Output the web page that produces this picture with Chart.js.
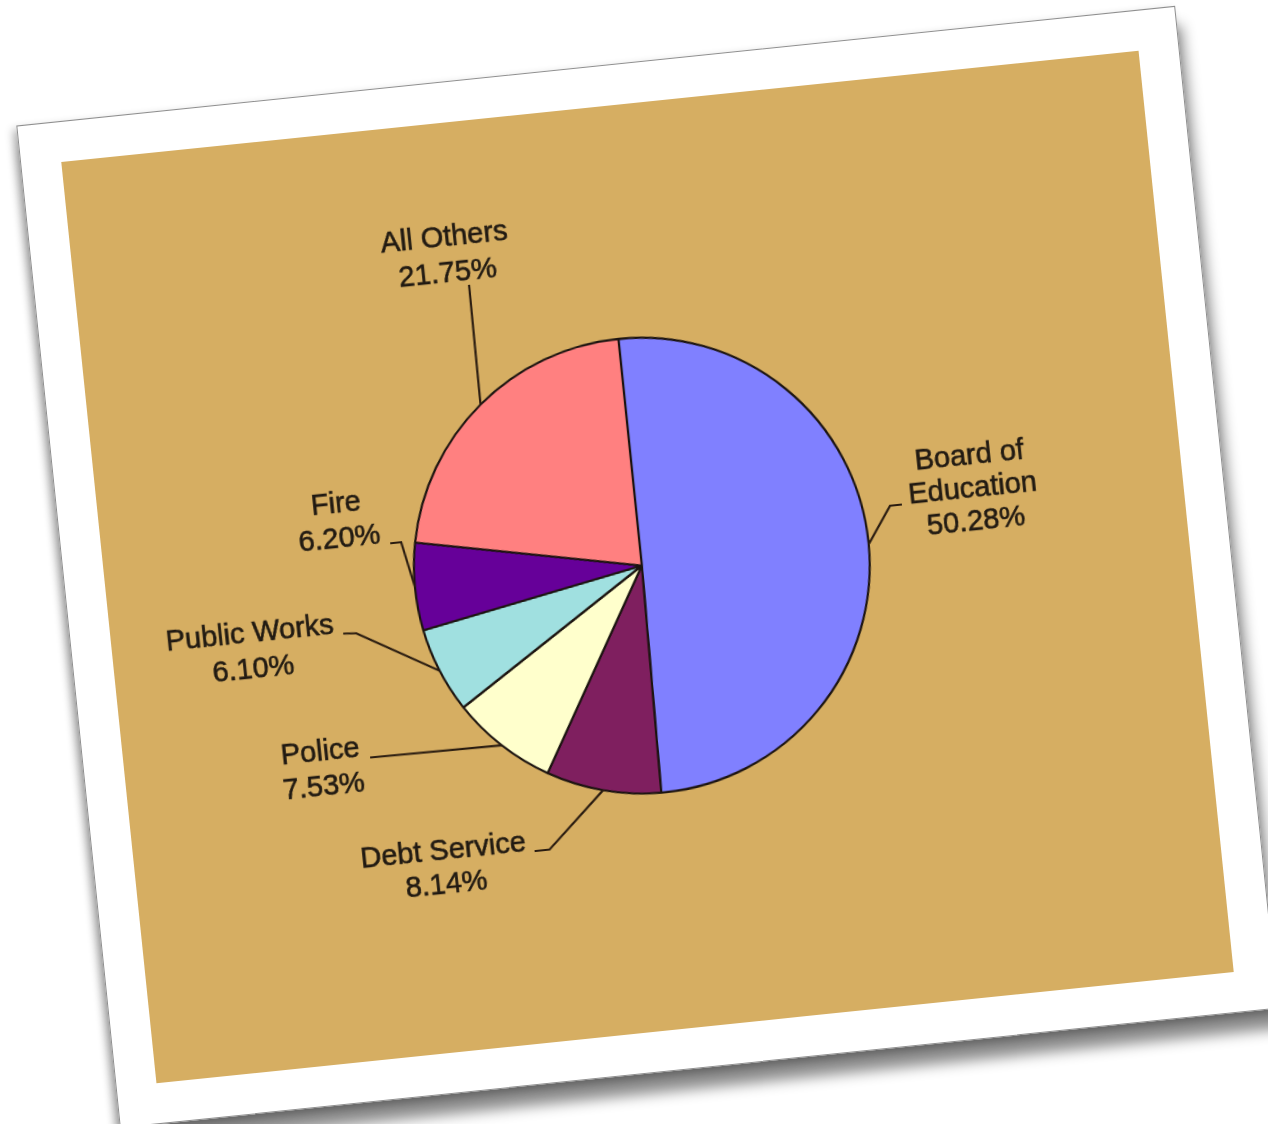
<!DOCTYPE html>
<html><head><meta charset="utf-8">
<script src="https://cdn.jsdelivr.net/npm/chart.js@4.4.1/dist/chart.umd.min.js"></script>
<style>
html,body{margin:0;padding:0;background:#fff;width:1268px;height:1124px;overflow:hidden;}
#paper{position:absolute;width:1165px;height:1008px;left:65.25px;top:62.5px;background:#fff;transform:rotate(-5.9deg);transform-origin:50% 50%;box-sizing:border-box;border:1.5px solid #8f8f8f;box-shadow:-4px 4px 8px rgba(0,0,0,0.30),4px 20px 14px rgba(0,0,0,0.45);}
#tan{position:absolute;left:39.5px;top:39.5px;width:1083px;height:926px;background:#D6AE62;}
canvas{display:block}
</style></head>
<body>
<div id="paper"><div id="tan"><canvas id="c" width="1083" height="926"></canvas></div></div>
<script>
const categories = [['Board of', 'Education'], 'Debt Service', 'Police', 'Public Works', 'Fire', 'All Others'];
const shares = [50.28, 8.14, 7.53, 6.10, 6.20, 21.75];
const sliceColors = ['#8080FF', '#7F1F5F', '#FFFFCC', '#A0E0E0', '#660099', '#FF8080'];

// label placement relative to the pie centre (annotation layout only)
const labelLayout = [
  {elbow: [253, -34], end: [265, -34], tx: 337, ty: -75, gap: 33},
  {elbow: [-121, 273], end: [-136, 273], tx: -227, ty: 264, gap: 34},
  {elbow: null, end: [-290, 163], tx: -339, ty: 153, gap: 35},
  {elbow: [-291, 38], end: [-304, 37], tx: -397, ty: 28, gap: 36},
  {elbow: [-237, -48], end: [-248, -48], tx: -298, ty: -92, gap: 35},
  {elbow: null, end: [-143, -297], tx: -163, ty: -346, gap: 36}
];

const leaderLabels = {
  id: 'leaderLabels',
  afterDatasetsDraw(chart) {
    const ctx = chart.ctx;
    const meta = chart.getDatasetMeta(0);
    ctx.save();
    meta.data.forEach((arc, i) => {
      const p = arc.getProps(['x', 'y', 'startAngle', 'endAngle', 'outerRadius'], true);
      const mid = (p.startAngle + p.endAngle) / 2;
      const L = labelLayout[i];
      const rx = p.x + p.outerRadius * Math.cos(mid);
      const ry = p.y + p.outerRadius * Math.sin(mid);
      ctx.strokeStyle = '#2a1c10';
      ctx.lineWidth = 2.2;
      ctx.beginPath();
      ctx.moveTo(rx, ry);
      if (L.elbow) ctx.lineTo(p.x + L.elbow[0], p.y + L.elbow[1]);
      ctx.lineTo(p.x + L.end[0], p.y + L.end[1]);
      ctx.stroke();
      const name = categories[i];
      const lines = (Array.isArray(name) ? name.slice() : [name]);
      lines.push(shares[i].toFixed(2) + '%');
      ctx.fillStyle = '#211a12';
      ctx.strokeStyle = '#211a12';
      ctx.lineWidth = 0.6;
      ctx.font = '29px "Liberation Sans", Arial, sans-serif';
      ctx.textAlign = 'center';
      ctx.textBaseline = 'middle';
      lines.forEach((t, k) => {
        ctx.fillText(t, p.x + L.tx, p.y + L.ty + k * L.gap);
        ctx.strokeText(t, p.x + L.tx, p.y + L.ty + k * L.gap);
      });
    });
    ctx.restore();
  }
};

new Chart(document.getElementById('c'), {
  type: 'pie',
  data: {
    labels: categories,
    datasets: [{
      data: shares,
      backgroundColor: sliceColors,
      borderColor: '#1c1410',
      borderWidth: 2.2
    }]
  },
  options: {
    responsive: false,
    animation: false,
    devicePixelRatio: 1,
    layout: {padding: {left: 307, top: 232, right: 318, bottom: 236}},
    plugins: {legend: {display: false}, tooltip: {enabled: false}}
  },
  plugins: [leaderLabels]
});
</script>
</body></html>
